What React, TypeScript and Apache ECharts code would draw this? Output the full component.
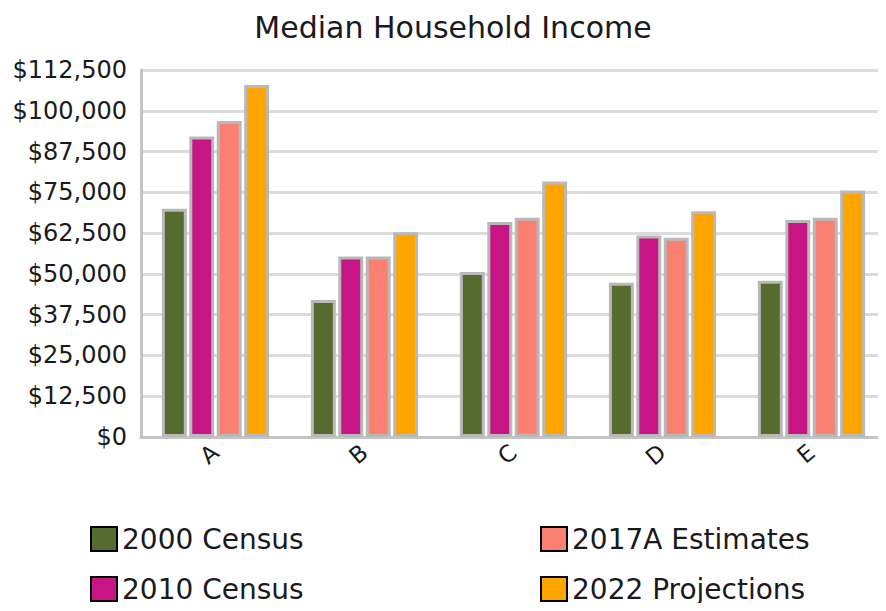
import React, { useEffect, useRef } from "react";
import * as echarts from "echarts";

// Places along the x axis
const categories = ["A", "B", "C", "D", "E"];

// Median household income by source, one value per place
const census2000 = [70000, 42000, 50600, 47300, 47900];
const census2010 = [92100, 55300, 65900, 61800, 66500];
const estimates2017A = [96900, 55300, 67200, 61100, 67200];
const projections2022 = [107900, 62800, 78300, 69200, 75600];

const seriesNames = ["2000 Census", "2010 Census", "2017A Estimates", "2022 Projections"];
const seriesColors = ["#556b2f", "#c71585", "#fa8072", "#ffa500"];
const seriesValues = [census2000, census2010, estimates2017A, projections2022];

// Y axis ticks
const yMin = 0;
const yMax = 112500;
const yStep = 12500;

const FONT = "DejaVu Sans";

const money = (v: number) => "$" + v.toLocaleString("en-US");

export default function App() {
  const ref = useRef<HTMLDivElement>(null);

  useEffect(() => {
    if (!ref.current) return;
    const chart = echarts.init(ref.current, undefined, { renderer: "svg" });

    const legendBase = {
      orient: "vertical" as const,
      icon: "rect",
      itemWidth: 26,
      itemHeight: 24,
      itemGap: 20,
      padding: 0,
      top: 524,
      height: 82,
      textStyle: { fontFamily: FONT, fontSize: 28, color: "#1a1a1a", lineHeight: 30 },
      itemStyle: { borderColor: "#000", borderWidth: 2 },
    };

    chart.setOption({
      animation: false,
      backgroundColor: "#fff",
      title: {
        text: "Median Household Income",
        left: 448,
        textAlign: "center",
        top: 7,
        textStyle: { fontFamily: FONT, fontSize: 30, fontWeight: "normal", color: "#1a1a1a" },
      },
      legend: [
        { ...legendBase, left: 90, data: [seriesNames[0], seriesNames[1]] },
        { ...legendBase, left: 540, data: [seriesNames[2], seriesNames[3]] },
      ],
      grid: { left: 141, top: 70, width: 757, height: 367, containLabel: false },
      xAxis: {
        type: "category",
        data: categories,
        axisLine: { show: true, lineStyle: { color: "#c4c4c4", width: 3 } },
        axisTick: { show: false },
        axisLabel: {
          rotate: 40,
          margin: 12,
          fontFamily: FONT,
          fontSize: 23,
          color: "#1a1a1a",
        },
      },
      yAxis: {
        type: "value",
        min: yMin,
        max: yMax,
        interval: yStep,
        axisLine: { show: true, lineStyle: { color: "#c4c4c4", width: 3 } },
        axisTick: { show: false },
        splitLine: { show: true, lineStyle: { color: "#dcdcdc", width: 3 } },
        axisLabel: {
          formatter: money,
          margin: 14,
          fontFamily: FONT,
          fontSize: 24,
          color: "#1a1a1a",
        },
      },
      series: seriesNames.map((name, i) => ({
        name,
        type: "bar",
        data: seriesValues[i],
        barGap: "10%",
        barCategoryGap: "28%",
        itemStyle: { color: seriesColors[i], borderColor: "#b9b9b9", borderWidth: 3 },
      })),
    });

    return () => chart.dispose();
  }, []);

  return <div ref={ref} style={{ width: 886, height: 611, margin: -8 }} />;
}
